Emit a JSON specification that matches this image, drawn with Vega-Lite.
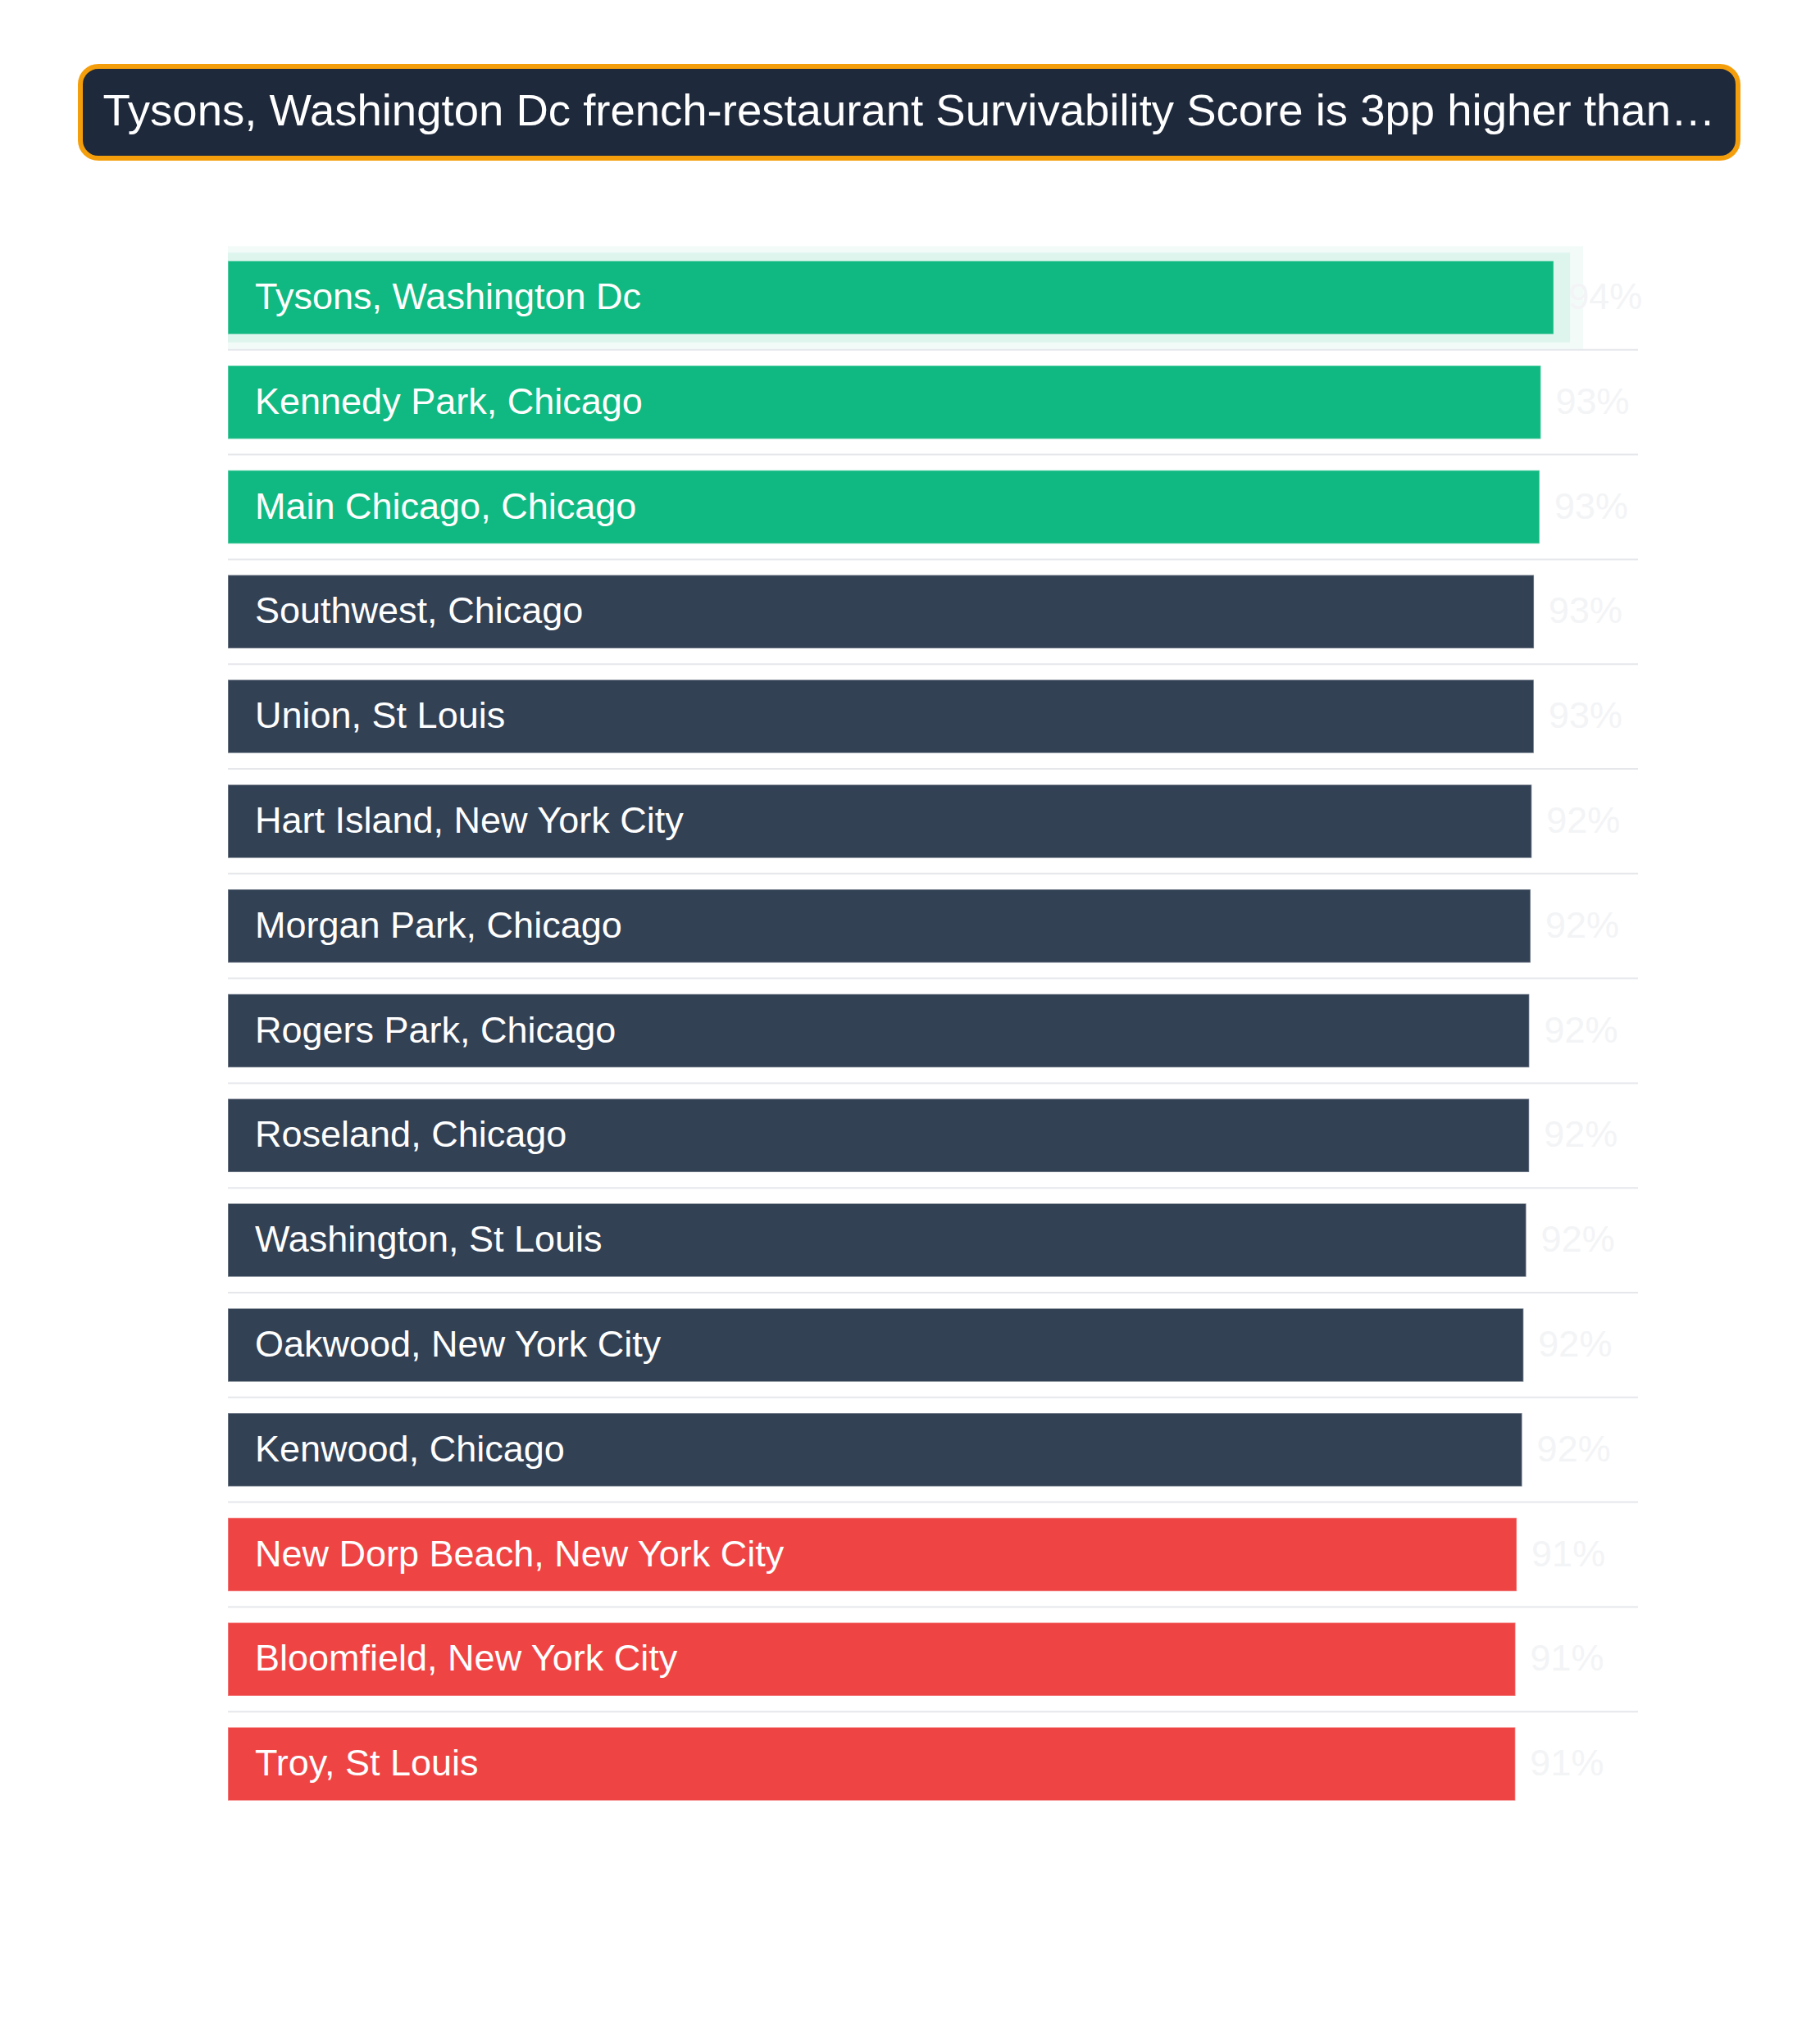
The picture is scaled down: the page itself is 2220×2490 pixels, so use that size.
{
  "$schema": "https://vega.github.io/schema/vega-lite/v6.json",
  "background": "white",
  "padding": {"left": 95, "top": 78, "right": 0, "bottom": 0},
  "config": {
    "view": {"stroke": null},
    "font": "Liberation Sans"
  },
  "spacing": 103,
  "vconcat": [
    {
      "width": 2022,
      "height": 112,
      "view": {"fill": "#1e293b", "stroke": "#f59e0b", "strokeWidth": 6, "cornerRadius": 22},
      "data": {"values": [{"headline": "Tysons, Washington Dc french-restaurant Survivability Score is 3pp higher than…"}]},
      "mark": {"type": "text", "color": "white", "fontSize": 54.5, "align": "center", "baseline": "middle"},
      "encoding": {"text": {"field": "headline"}}
    },
    {
      "width": 1900,
      "height": 1917,
      "data": {
        "values": [
          {"rank": 1, "area": "Tysons, Washington Dc", "score": 0.9402, "group": "top"},
          {"rank": 2, "area": "Kennedy Park, Chicago", "score": 0.9311, "group": "top"},
          {"rank": 3, "area": "Main Chicago, Chicago", "score": 0.9302, "group": "top"},
          {"rank": 4, "area": "Southwest, Chicago", "score": 0.9262, "group": "mid"},
          {"rank": 5, "area": "Union, St Louis", "score": 0.9261, "group": "mid"},
          {"rank": 6, "area": "Hart Island, New York City", "score": 0.9246, "group": "mid"},
          {"rank": 7, "area": "Morgan Park, Chicago", "score": 0.9238, "group": "mid"},
          {"rank": 8, "area": "Rogers Park, Chicago", "score": 0.9229, "group": "mid"},
          {"rank": 9, "area": "Roseland, Chicago", "score": 0.9228, "group": "mid"},
          {"rank": 10, "area": "Washington, St Louis", "score": 0.9207, "group": "mid"},
          {"rank": 11, "area": "Oakwood, New York City", "score": 0.9188, "group": "mid"},
          {"rank": 12, "area": "Kenwood, Chicago", "score": 0.9178, "group": "mid"},
          {"rank": 13, "area": "New Dorp Beach, New York City", "score": 0.9140, "group": "bottom"},
          {"rank": 14, "area": "Bloomfield, New York City", "score": 0.9131, "group": "bottom"},
          {"rank": 15, "area": "Troy, St Louis", "score": 0.9130, "group": "bottom"}
        ]
      },
      "encoding": {
        "y": {
          "field": "area",
          "type": "nominal",
          "sort": null,
          "scale": {"paddingInner": 0, "paddingOuter": 0},
          "axis": null
        }
      },
      "layer": [
        {
          "mark": {"type": "rule", "color": "#e5e7eb", "strokeWidth": 2},
          "encoding": {
            "y": {"field": "area", "type": "nominal", "sort": null, "bandPosition": 0},
            "x": {"datum": 0, "type": "quantitative", "scale": {"domain": [-0.104651, 1], "nice": false, "zero": false}, "axis": null},
            "x2": {"datum": 1},
            "strokeOpacity": {"condition": {"test": "datum.rank == 1", "value": 0}, "value": 1}
          }
        },
        {
          "mark": {"type": "bar", "height": {"band": 0.7}, "xOffset": 18, "fillOpacity": 0, "stroke": "#10b981", "strokeWidth": 36},
          "encoding": {
            "x": {"field": "score", "type": "quantitative"},
            "strokeOpacity": {"condition": {"test": "datum.rank == 1", "value": 0.05}, "value": 0}
          }
        },
        {
          "mark": {"type": "bar", "height": {"band": 0.7}, "xOffset": 10, "fillOpacity": 0, "stroke": "#10b981", "strokeWidth": 20},
          "encoding": {
            "x": {"field": "score", "type": "quantitative"},
            "strokeOpacity": {"condition": {"test": "datum.rank == 1", "value": 0.09}, "value": 0}
          }
        },
        {
          "mark": {"type": "bar", "height": {"band": 0.7}, "stroke": "white", "strokeOpacity": 0.35, "strokeWidth": 1.5},
          "encoding": {
            "x": {"field": "score", "type": "quantitative"},
            "color": {
              "field": "group",
              "type": "nominal",
              "scale": {"domain": ["top", "mid", "bottom"], "range": ["#10b981", "#334155", "#ef4444"]},
              "legend": null
            }
          }
        },
        {
          "mark": {"type": "text", "align": "left", "baseline": "middle", "dx": 33, "fontSize": 45, "color": "white"},
          "encoding": {
            "x": {"datum": 0, "type": "quantitative"},
            "text": {"field": "area"}
          }
        },
        {
          "mark": {"type": "text", "align": "left", "baseline": "middle", "dx": 18, "fontSize": 45, "color": "#f3f4f6"},
          "encoding": {
            "x": {"field": "score", "type": "quantitative"},
            "text": {"field": "score", "type": "quantitative", "format": ".0%"}
          }
        }
      ]
    }
  ]
}
